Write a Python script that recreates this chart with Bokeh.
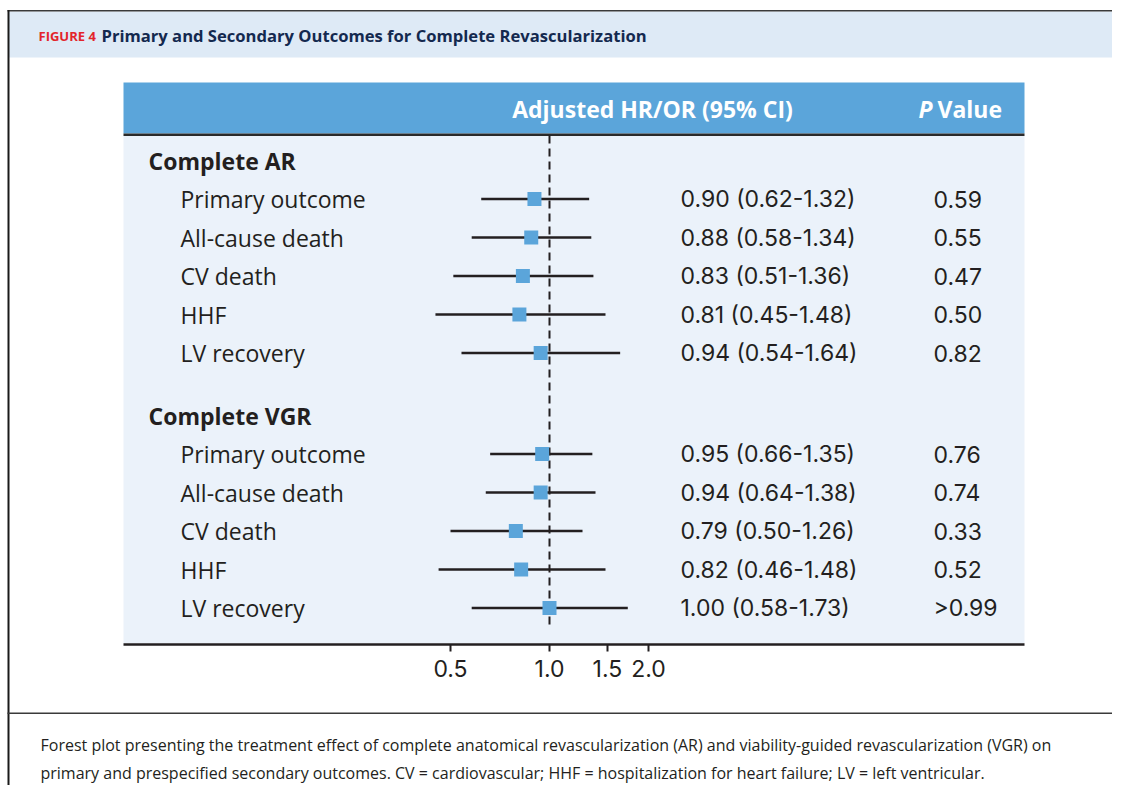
from bokeh.plotting import figure
from bokeh.models import Range1d, LogScale, LogAxis, FixedTicker, NumeralTickFormatter, ColumnDataSource
from bokeh.core.properties import value
from bokeh.embed import file_html
from bokeh.resources import INLINE

# ---------------- data ----------------
groups = ["Complete AR", "Complete VGR"]
outcomes = ["Primary outcome", "All-cause death", "CV death", "HHF", "LV recovery"]
ar_est = [0.90, 0.88, 0.83, 0.81, 0.94]
ar_lo = [0.62, 0.58, 0.51, 0.45, 0.54]
ar_hi = [1.32, 1.34, 1.36, 1.48, 1.64]
ar_p = ["0.59", "0.55", "0.47", "0.50", "0.82"]
vgr_est = [0.95, 0.94, 0.79, 0.82, 1.00]
vgr_lo = [0.66, 0.64, 0.50, 0.46, 0.58]
vgr_hi = [1.35, 1.38, 1.26, 1.48, 1.73]
vgr_p = ["0.76", "0.74", "0.33", "0.52", ">0.99"]
tick_values = [0.5, 1.0, 1.5, 2.0]
reference_value = 1.0

fig_label = "FIGURE 4"
fig_title = "Primary and Secondary Outcomes for Complete Revascularization"
col_header = "Adjusted HR/OR (95% CI)"
caption_lines = [
    "Forest plot presenting the treatment effect of complete anatomical revascularization (AR) and viability-guided revascularization (VGR) on",
    "primary and prespecified secondary outcomes. CV = cardiovascular; HHF = hospitalization for heart failure; LV = left ventricular.",
]

# ---------------- layout constants ----------------
W, H = 1112, 785
PX0, PY0 = 0, 0
X_ONE = 549.0          # x of HR = 1
PX_PER_DOUBLING = 99.0
ROW0_Y = 160.0
ROW_H = 38.5
GROUP_GAP = 24.0
PANEL_L, PANEL_R = 123, 1024
BAR_T, BAR_B = 82, 133
PANEL_T, PANEL_B = 135, 643
AXIS_Y = 644

FONT = "Open Sans"
NUMFONT = "Inter"
TXT = "#231F20"
BLUE = "#5BA5DA"

def hr_at(px):
    return 2 ** ((px - X_ONE) / PX_PER_DOUBLING)

p = figure(width=W, height=H,
           x_range=Range1d(PX0, PX0 + W), y_range=Range1d(PY0 + H, PY0),
           x_axis_type=None, y_axis_type=None,
           output_backend="svg", toolbar_location=None,
           min_border=0, outline_line_color=None,
           background_fill_color="white", border_fill_color="white")
p.extra_x_ranges = {"hr": Range1d(hr_at(PX0), hr_at(PX0 + W))}
p.extra_x_scales = {"hr": LogScale()}
p.extra_y_ranges = {"rows": Range1d((PY0 + H - ROW0_Y) / ROW_H, (PY0 - ROW0_Y) / ROW_H)}

# ---------------- decorations ----------------
p.quad(left=[8], right=[PX0 + W], top=[11], bottom=[57], fill_color="#DEEAF6", line_color=None)
p.quad(left=[7], right=[PX0 + W], top=[9.5], bottom=[11], fill_color="#3A3A3A", line_color=None)
p.quad(left=[7], right=[9], top=[9.5], bottom=[PY0 + H], fill_color="#1A1A1A", line_color=None)
p.quad(left=[7], right=[PX0 + W], top=[712], bottom=[713.6], fill_color="#3A3A3A", line_color=None)

p.quad(left=[PANEL_L], right=[PANEL_R], top=[BAR_T], bottom=[BAR_B], fill_color=BLUE, line_color=None)
p.quad(left=[PANEL_L], right=[PANEL_R], top=[PANEL_T], bottom=[PANEL_B], fill_color="#EBF2FA", line_color=None)
p.quad(left=[PANEL_L], right=[PANEL_R], top=[BAR_B], bottom=[PANEL_T + 0.5], fill_color="#2A2A2A", line_color=None)

# title
p.text(x=[38], y=[35], text=[fig_label], text_font=value(FONT), text_font_style="bold",
       text_font_size="13px", text_color="#E3242B", text_baseline="middle", text_align="left")
p.text(x=[101], y=[35], text=[fig_title], text_font=value(FONT), text_font_style="bold",
       text_font_size="16.6px", text_color="#14294F", text_baseline="middle", text_align="left")

# column headers
p.text(x=[652], y=[108], text=[col_header], text_font=value(FONT), text_font_style="bold",
       text_font_size="23px", text_color="white", text_baseline="middle", text_align="center")
p.text(x=[918], y=[108], text=["P"], text_font=value(FONT), text_font_style="bold italic",
       text_font_size="23px", text_color="white", text_baseline="middle", text_align="left")
p.text(x=[937], y=[108], text=["Value"], text_font=value(FONT), text_font_style="bold",
       text_font_size="23px", text_color="white", text_baseline="middle", text_align="left")

# caption
for i, line in enumerate(caption_lines):
    p.text(x=[40], y=[744 + 28 * i], text=[line], text_font=value(FONT),
           text_font_size="16px", text_color=TXT, text_baseline="middle", text_align="left")

# ---------------- forest data ----------------
g_step = 6 + GROUP_GAP / ROW_H
rows, labels, est, lo, hi, pv, ci_txt = [], [], [], [], [], [], []
hdr_rows = []
for g, (e_, l_, h_, p_) in enumerate([(ar_est, ar_lo, ar_hi, ar_p), (vgr_est, vgr_lo, vgr_hi, vgr_p)]):
    hdr_rows.append(g * g_step)
    for r, name in enumerate(outcomes):
        rows.append(g * g_step + r + 1)
        labels.append(name)
        est.append(e_[r]); lo.append(l_[r]); hi.append(h_[r]); pv.append(p_[r])
        ci_txt.append(f"{e_[r]:.2f} ({l_[r]:.2f}-{h_[r]:.2f})")

src = ColumnDataSource(dict(row=rows, label=labels, est=est, lo=lo, hi=hi, p=pv, ci=ci_txt))

# reference line
p.segment(x0=[reference_value], x1=[reference_value], y0=[PANEL_T], y1=[627],
          x_range_name="hr", line_color=TXT, line_width=2, line_dash="8 5")
# CI lines
p.segment(x0="lo", x1="hi", y0="row", y1="row", source=src, x_range_name="hr",
          y_range_name="rows", line_color=TXT, line_width=2.5)
# point estimates
p.scatter(x="est", y="row", source=src, x_range_name="hr", y_range_name="rows",
          marker="square", size=14, fill_color=BLUE, line_color=None)

# texts
p.text(x=148, y=hdr_rows, text=groups, y_range_name="rows", text_font=value(FONT),
       text_font_style="bold", text_font_size="23px", text_color=TXT,
       text_baseline="middle", text_align="left")
p.text(x=180, y="row", text="label", source=src, y_range_name="rows", text_font=value(FONT),
       text_font_size="23px", text_color=TXT, text_baseline="middle", text_align="left")
p.text(x=680, y="row", text="ci", source=src, y_range_name="rows", text_font=value(NUMFONT),
       text_font_size="23px", text_color=TXT, text_baseline="middle", text_align="left")
p.text(x=933, y="row", text="p", source=src, y_range_name="rows", text_font=value(NUMFONT),
       text_font_size="23px", text_color=TXT, text_baseline="middle", text_align="left")

# axis
ax = LogAxis(x_range_name="hr", fixed_location=AXIS_Y,
             ticker=FixedTicker(ticks=tick_values),
             formatter=NumeralTickFormatter(format="0.0"),
             bounds=(hr_at(PANEL_L), hr_at(PANEL_R)))
ax.axis_line_color = "#231F20"
ax.axis_line_width = 2.5
ax.major_tick_line_color = "#231F20"
ax.major_tick_line_width = 2
ax.major_tick_out = 7
ax.major_tick_in = 0
ax.minor_tick_out = 0
ax.minor_tick_in = 0
ax.major_label_text_font = NUMFONT
ax.major_label_text_font_size = "23px"
ax.major_label_text_color = TXT
ax.major_label_standoff = 8
p.add_layout(ax, "below")

open("out.html", "w").write(file_html(p, INLINE))
